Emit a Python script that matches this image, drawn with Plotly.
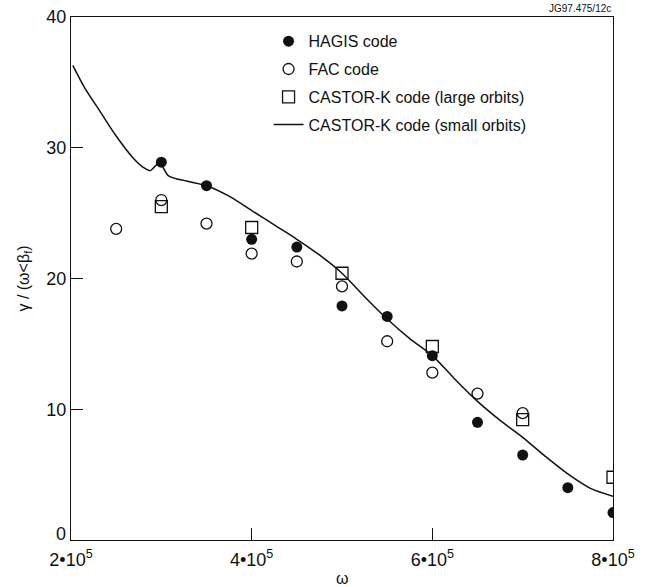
import plotly.graph_objects as go

# HAGIS code growth rates
hagis_w = [3.0e5, 3.5e5, 4.0e5, 4.5e5, 5.0e5, 5.5e5, 6.0e5, 6.5e5, 7.0e5, 7.5e5, 8.0e5]
hagis_g = [28.9, 27.1, 23.0, 22.4, 17.9, 17.1, 14.1, 9.0, 6.5, 4.0, 2.1]

# FAC code growth rates
fac_w = [2.5e5, 3.0e5, 3.5e5, 4.0e5, 4.5e5, 5.0e5, 5.5e5, 6.0e5, 6.5e5, 7.0e5]
fac_g = [23.8, 26.0, 24.2, 21.9, 21.3, 19.4, 15.2, 12.8, 11.2, 9.7]

# CASTOR-K, large orbits
ck_large_w = [3.0e5, 4.0e5, 5.0e5, 6.0e5, 7.0e5, 8.0e5]
ck_large_g = [25.5, 23.9, 20.4, 14.8, 9.2, 4.8]

# CASTOR-K, small orbits (continuous curve)
ck_small_w = [2.02e5, 2.15e5, 2.32e5, 2.5e5, 2.69e5, 2.8e5, 2.875e5, 2.98e5, 3.08e5,
              3.28e5, 3.5e5, 3.75e5, 4.0e5, 4.25e5, 4.5e5, 4.75e5, 5.0e5, 5.25e5,
              5.5e5, 5.75e5, 6.0e5, 6.25e5, 6.5e5, 6.75e5, 7.0e5, 7.25e5, 7.5e5,
              7.75e5, 8.0e5]
ck_small_g = [36.3, 34.6, 32.8, 30.9, 29.2, 28.5, 28.25, 28.86, 27.85,
              27.45, 27.1, 26.3, 25.2, 24.1, 23.0, 21.8, 20.4, 18.6,
              16.9, 15.4, 14.1, 12.3, 10.6, 9.15, 7.85, 6.4, 5.05,
              3.95, 3.35]

x_tickvals = [2e5, 4e5, 6e5, 8e5]
x_ticktext = ["2•10<sup>5</sup>", "4•10<sup>5</sup>", "6•10<sup>5</sup>", "8•10<sup>5</sup>"]
y_tickvals = [0, 10, 20, 30, 40]
y_ticktext = ["", "10", "20", "30", "40"]

FONT = "Liberation Sans, Arial, sans-serif"
INK = "#111111"

fig = go.Figure()

fig.add_trace(go.Scatter(
    x=hagis_w, y=hagis_g, mode="markers", name="HAGIS code",
    legendgroup="a",
    marker=dict(symbol="circle", size=11, color=INK, line=dict(width=0)),
))
fig.add_trace(go.Scatter(
    x=fac_w, y=fac_g, mode="markers", name="FAC code",
    legendgroup="b",
    marker=dict(symbol="circle", size=11, color="white", line=dict(width=1.3, color=INK)),
))
fig.add_trace(go.Scatter(
    x=ck_large_w, y=ck_large_g, mode="markers", name="CASTOR-K code (large orbits)",
    legendgroup="c",
    marker=dict(symbol="square", size=12, color="rgba(0,0,0,0)", line=dict(width=1.3, color=INK)),
))
fig.add_trace(go.Scatter(
    x=ck_small_w, y=ck_small_g, mode="lines", name="CASTOR-K code (small orbits)",
    legendgroup="d",
    line=dict(color=INK, width=1.5, shape="spline", smoothing=0.8),
))

# the zero label sits just above the corner so it clears the x tick labels
fig.add_annotation(
    text="0", xref="paper", yref="y", x=0, y=0,
    xanchor="right", yanchor="middle", xshift=-3, yshift=6, showarrow=False,
    font=dict(family=FONT, size=18, color=INK),
)

# x axis title
fig.add_annotation(
    text="ω", xref="paper", yref="paper", x=0.5, y=0,
    xanchor="center", yanchor="middle", yshift=-38, showarrow=False,
    font=dict(family=FONT, size=16, color=INK),
)

# JET figure reference tag
fig.add_annotation(
    text="JG97.475/12c", xref="paper", yref="paper", x=1.0, y=1.0,
    xanchor="right", yanchor="middle", yshift=9, showarrow=False,
    font=dict(family=FONT, size=10, color=INK),
)

fig.update_layout(
    width=647, height=587,
    margin=dict(l=71, r=34, t=17, b=47),
    paper_bgcolor="white", plot_bgcolor="white",
    font=dict(family=FONT, color=INK),
    showlegend=True,
    legend=dict(
        x=0.3645, y=0.986, xanchor="left", yanchor="top",
        bgcolor="rgba(0,0,0,0)", borderwidth=0,
        font=dict(family=FONT, size=16, color=INK),
        tracegroupgap=4, itemwidth=30,
    ),
)

fig.update_xaxes(
    range=[2e5, 8e5], tickvals=x_tickvals, ticktext=x_ticktext,
    ticks="inside", ticklen=12, tickwidth=1.2, tickcolor=INK,
    showline=True, linecolor=INK, linewidth=1.3, mirror=True,
    showgrid=False, zeroline=False, ticklabelstandoff=3, automargin=False,
    tickfont=dict(family=FONT, size=18, color=INK),
)
fig.update_yaxes(
    range=[0, 40], tickvals=y_tickvals, ticktext=y_ticktext,
    ticks="inside", ticklen=12, tickwidth=1.2, tickcolor=INK,
    showline=True, linecolor=INK, linewidth=1.3, mirror=True,
    showgrid=False, zeroline=False, automargin=False,
    tickfont=dict(family=FONT, size=18, color=INK),
    title=dict(text="γ / (ω<β<sub>f</sub>)", font=dict(family=FONT, size=16, color=INK), standoff=12),
)

fig.write_html("out.html")
